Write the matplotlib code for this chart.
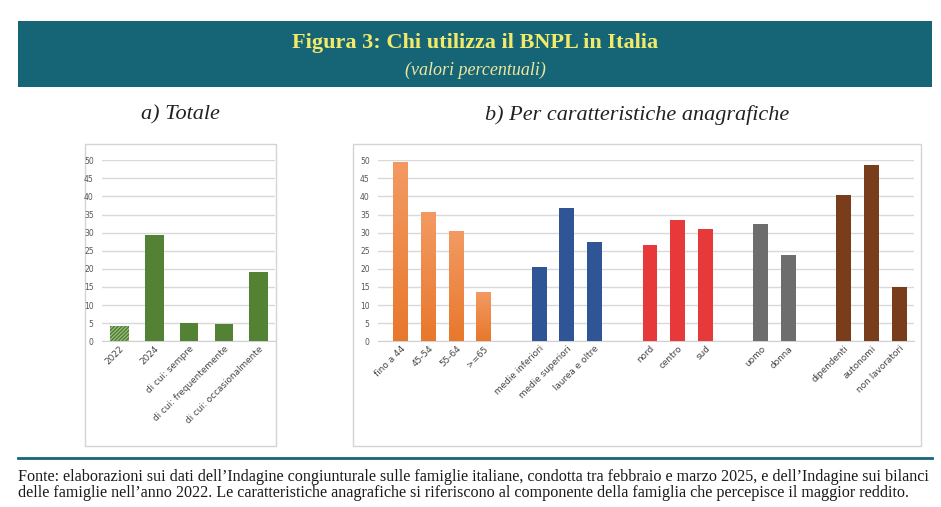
import matplotlib
matplotlib.use("Agg")
import matplotlib.pyplot as plt
import numpy as np
from matplotlib.patches import Rectangle
from matplotlib.lines import Line2D
from matplotlib.colors import LinearSegmentedColormap

# --- data -------------------------------------------------------------
tot_labels = ["2022", "2024", "di cui: sempre", "di cui: frequentemente",
              "di cui: occasionalmente"]
tot_values = [4.1, 29.3, 5.1, 4.7, 19.2]

age_labels = ["fino a 44", "45-54", "55-64", ">=65"]
age_values = [49.6, 35.8, 30.4, 13.6]
edu_labels = ["medie inferiori", "medie superiori", "laurea e oltre"]
edu_values = [20.5, 36.7, 27.4]
area_labels = ["nord", "centro", "sud"]
area_values = [26.6, 33.6, 30.9]
sex_labels = ["uomo", "donna"]
sex_values = [32.5, 23.8]
job_labels = ["dipendenti", "autonomi", "non lavoratori"]
job_values = [40.4, 48.8, 15.0]

groups = [(age_labels, age_values, "#F0823A"),
          (edu_labels, edu_values, "#2F5597"),
          (area_labels, area_values, "#E8393A"),
          (sex_labels, sex_values, "#6D6D6D"),
          (job_labels, job_values, "#7A3D1C")]

TEAL = "#166576"
W, H = 941, 507


def fx(px):
    return px / W


def fy(py):
    return 1 - py / H


fig = plt.figure(figsize=(W / 100, H / 100), dpi=100)
fig.patch.set_facecolor("white")

# banner
fig.patches.append(Rectangle((fx(18), fy(87)), fx(932) - fx(18), fy(21) - fy(87),
                             transform=fig.transFigure, facecolor=TEAL,
                             edgecolor="none", zorder=-2))
fig.text(fx(475), fy(43), "Figura 3: Chi utilizza il BNPL in Italia",
         ha="center", va="center", fontsize=16, fontweight="bold",
         family="Liberation Serif", color="#F3EA6A")
fig.text(fx(475), fy(70), "(valori percentuali)", ha="center", va="center",
         fontsize=13, style="italic", family="Liberation Serif", color="#EFE7A0")

fig.text(fx(180), fy(115), "a) Totale", ha="center", va="center",
         fontsize=16, style="italic", family="Liberation Serif", color="#222222")
fig.text(fx(637), fy(115), "b) Per caratteristiche anagrafiche", ha="center",
         va="center", fontsize=16, style="italic", family="Liberation Serif",
         color="#222222")

# chart boxes
for x0, x1 in [(85, 276), (353, 921)]:
    fig.patches.append(Rectangle((fx(x0), fy(446)), fx(x1) - fx(x0), fy(144) - fy(446),
                                 transform=fig.transFigure, facecolor="none",
                                 edgecolor="#d4d4d4", linewidth=1, zorder=-1))

# separator and footnote
fig.lines.append(Line2D([fx(18), fx(932)], [fy(458), fy(458)],
                        transform=fig.transFigure, color=TEAL, linewidth=2))
fig.text(fx(18), fy(477),
         "Fonte: elaborazioni sui dati dell\u2019Indagine congiunturale sulle famiglie italiane, "
         "condotta tra febbraio e marzo 2025, e dell\u2019Indagine sui bilanci",
         ha="left", va="center", fontsize=11.6, family="Liberation Serif", color="#1a1a1a")
fig.text(fx(18), fy(493),
         "delle famiglie nell\u2019anno 2022. Le caratteristiche anagrafiche si riferiscono "
         "al componente della famiglia che percepisce il maggior reddito.",
         ha="left", va="center", fontsize=11.6, family="Liberation Serif", color="#1a1a1a")


def style_axes(ax):
    ax.set_ylim(0, 50)
    ax.set_yticks(range(0, 51, 5))
    ax.yaxis.grid(True, color="#d9d9d9", linewidth=1)
    ax.set_axisbelow(True)
    for s in ["top", "right", "left"]:
        ax.spines[s].set_visible(False)
    ax.spines["bottom"].set_color("#d0d0d0")
    ax.tick_params(axis="y", length=0, labelsize=5.5, labelcolor="#555555", pad=6)
    ax.tick_params(axis="x", length=0, labelsize=6.4, labelcolor="#444444", pad=2)
    ax.set_facecolor("none")


# --- left panel ---------------------------------------------------------
axl = fig.add_axes([fx(102), fy(341.3), fx(275) - fx(102), fy(160.3) - fy(341.3)])
xl = np.arange(len(tot_values))
bars = axl.bar(xl, tot_values, width=0.53, color="#548235", zorder=3)
bars[0].set_facecolor("#9cbf84")
bars[0].set_edgecolor("#4f7d30")
bars[0].set_hatch("/////////")
bars[0].set_linewidth(0)
axl.set_xlim(-0.51, 4.48)
axl.set_xticks(xl)
axl.set_xticklabels(tot_labels, rotation=45, ha="right", rotation_mode="anchor")
style_axes(axl)

# --- right panel --------------------------------------------------------
axr = fig.add_axes([fx(378), fy(341.3), fx(914) - fx(378), fy(160.3) - fy(341.3)])
pos, labs = [], []
start = 0
grad = LinearSegmentedColormap.from_list("og", ["#E8782C", "#F39A63"])
for labels, values, color in groups:
    xs = np.arange(start, start + len(values))
    bb = axr.bar(xs, values, width=0.54, color=color, zorder=3)
    if color == "#F0823A":
        # orange bars fade lighter towards the top
        for b in bb:
            x0, y0 = b.get_x(), b.get_y()
            im = axr.imshow(np.linspace(0, 1, 64).reshape(-1, 1), cmap=grad,
                            origin="lower", aspect="auto", zorder=4,
                            extent=[x0, x0 + b.get_width(), y0, y0 + b.get_height()])
            im.set_clip_path(b)
    pos.extend(xs)
    labs.extend(labels)
    start += len(values) + 1
axr.set_xlim(-0.82, 18.53)
axr.set_ylim(0, 50)
axr.set_xticks(pos)
axr.set_xticklabels(labs, rotation=45, ha="right", rotation_mode="anchor")
style_axes(axr)

fig.savefig("out.png", dpi=100)
